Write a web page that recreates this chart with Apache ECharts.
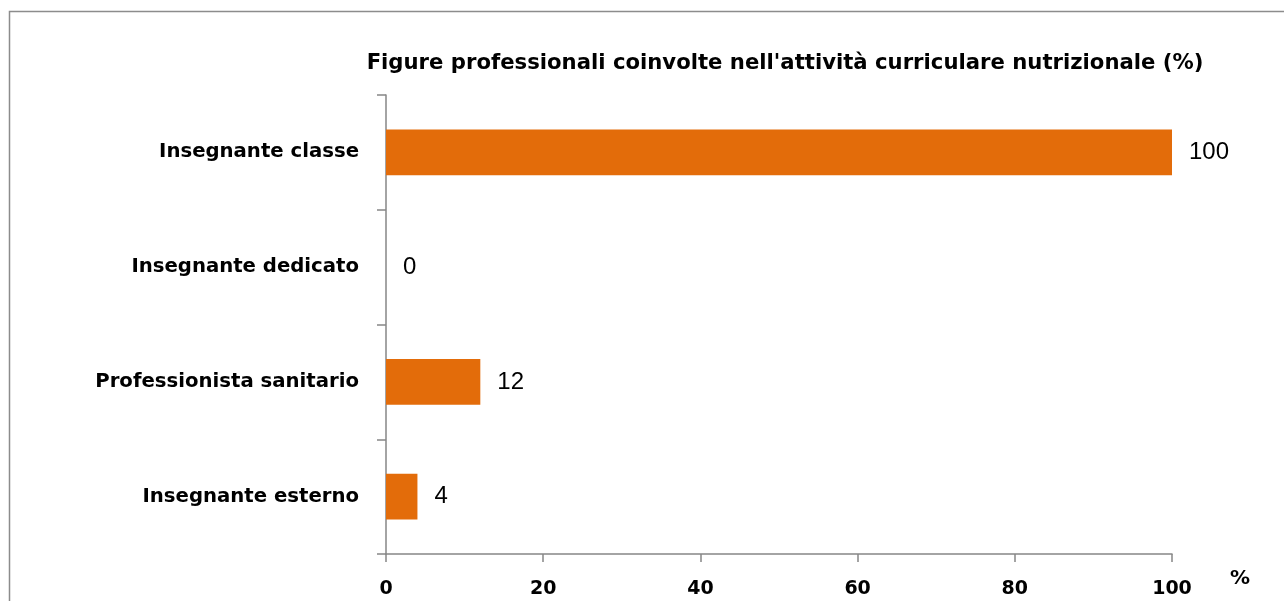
<!DOCTYPE html>
<html>
<head>
<meta charset="utf-8">
<script src="https://cdn.jsdelivr.net/npm/echarts@6/dist/echarts.min.js"></script>
<style>
html,body{margin:0;padding:0;background:#fff;}
#c{width:1284px;height:601px;}
</style>
</head>
<body>
<div id="c"></div>
<script>
const titleText = "Figure professionali coinvolte nell'attività curriculare nutrizionale (%)";
const categories = ["Insegnante classe", "Insegnante dedicato", "Professionista sanitario", "Insegnante esterno"];
const values = [100, 0, 12, 4];
const xTicks = [0, 20, 40, 60, 80, 100];
const axisName = "%";

const BOLD = "DejaVu Sans";
const REG = "Liberation Sans";
const axisColor = "#868686";
const chart = echarts.init(document.getElementById('c'));
chart.setOption({
  animation: false,
  backgroundColor: '#fff',
  graphic: [{
    type: 'rect', silent: true,
    shape: {x: 9.5, y: 11.5, width: 1300, height: 620},
    style: {fill: 'none', stroke: '#8c8c8c', lineWidth: 1.5}
  }],
  title: {
    text: titleText,
    left: 780, textAlign: 'center', top: 48,
    textStyle: {fontFamily: BOLD, fontWeight: 'bold', fontSize: 21.2, color: '#000'}
  },
  grid: {left: 386, right: 112, top: 95, bottom: 47, containLabel: false},
  xAxis: {
    type: 'value', min: xTicks[0], max: xTicks[xTicks.length - 1], interval: 20,
    splitLine: {show: false},
    axisLine: {show: true, lineStyle: {color: axisColor, width: 1.5}},
    axisTick: {show: true, length: 8, lineStyle: {color: axisColor, width: 1.5}},
    axisLabel: {margin: 26, fontFamily: BOLD, fontWeight: 'bold', fontSize: 19, color: '#000'},
    name: axisName, nameLocation: 'end', nameGap: 58,
    nameTextStyle: {fontFamily: BOLD, fontWeight: 'bold', fontSize: 20, color: '#000', verticalAlign: 'top', padding: [15, 0, 0, 0]}
  },
  yAxis: {
    type: 'category', data: categories, inverse: true,
    axisLine: {show: true, lineStyle: {color: axisColor, width: 1.5}},
    axisTick: {show: true, length: 9, lineStyle: {color: axisColor, width: 1.5}},
    axisLabel: {margin: 27, fontFamily: BOLD, fontWeight: 'bold', fontSize: 19.7, color: '#000'}
  },
  series: [{
    type: 'bar', data: values, barWidth: '40%',
    itemStyle: {color: '#E36C0A'},
    label: {show: true, position: 'right', distance: 17, fontFamily: REG, fontSize: 24, color: '#000'}
  }]
});
</script>
</body>
</html>
